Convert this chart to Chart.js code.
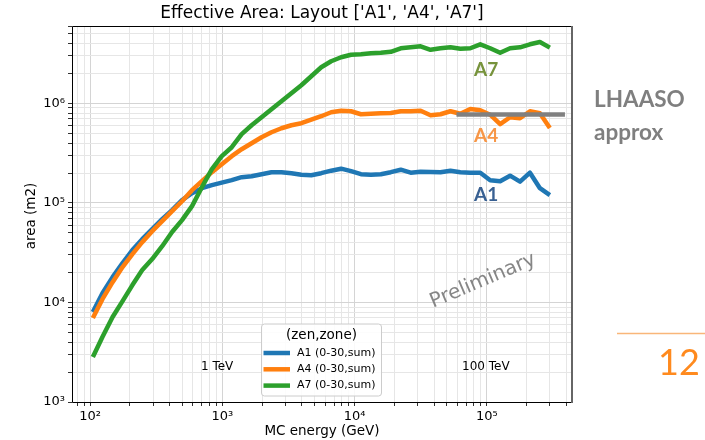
<!DOCTYPE html>
<html>
<head>
<meta charset="utf-8">
<script src="https://cdn.jsdelivr.net/npm/chart.js"></script>
<style>
    body { margin: 0; background: #fff; }
    canvas { display: block; }
</style>
</head>
<body>
<canvas id="myChart" width="705" height="440"></canvas>
<script>
    // MC energy bins (GeV)
    var energies = [105, 124, 148, 176, 209, 248, 295, 351, 417, 496, 590, 701, 834, 991, 1179, 1401,
        1666, 1981, 2355, 2800, 3330, 3959, 4707, 5597, 6655, 7913, 9406, 11180, 13300, 15810, 18800,
        22350, 26570, 31590, 37570, 44670, 53100, 63140, 75080, 89270, 106100, 126200, 150000, 178400,
        212100, 252200, 299900];
    // effective area (m2)
    var areaA1 = [8000, 12400, 18000, 24900, 33600, 43300, 54600, 68800, 84700, 106700, 125500, 140800,
        150900, 159900, 169400, 181600, 185800, 194600, 203800, 203800, 199200, 192400, 190200, 199200,
        211000, 221000, 208600, 194600, 192400, 194600, 203800, 215900, 201500, 206200, 205000, 203800,
        211000, 203800, 201500, 201500, 169400, 165600, 188000, 163700, 201500, 140800, 119800];
    var areaA4 = [6970, 10800, 16000, 22700, 30600, 40400, 52100, 65700, 82800, 104000, 134400, 165600,
        203800, 245300, 295100, 346900, 398500, 457700, 513800, 563600, 604000, 632700, 686000, 743800,
        815700, 844600, 835000, 779000, 787000, 797100, 802000, 835000, 835000, 844600, 761200, 779000,
        835000, 787000, 880000, 854400, 770100, 618400, 726900, 710300, 835000, 797100, 567500];
    var areaA7 = [2830, 4490, 7140, 10330, 14950, 21150, 27280, 36800, 51000, 67200, 92880, 144100,
        218500, 295100, 363300, 490800, 604000, 726900, 874600, 1052000, 1266000, 1523000, 1876000,
        2309000, 2653000, 2910000, 3083000, 3119000, 3192000, 3228000, 3304000, 3583000, 3666000,
        3752000, 3462000, 3583000, 3666000, 3542000, 3583000, 3929000, 3583000, 3228000, 3583000,
        3666000, 3929000, 4145000, 3640000];
    var seriesNames = ['A1 (0-30,sum)', 'A4 (0-30,sum)', 'A7 (0-30,sum)'];
    var seriesColors = ['#1f77b4', '#ff7f0e', '#2ca02c'];
    // grey "LHAASO approx" reference line
    var lhaasoEnergy = [59000, 390000];
    var lhaasoArea = [775000, 775000];
    var xTickPowers = [2, 3, 4, 5];
    var yTickPowers = [3, 4, 5, 6];

    var sup = '⁰¹²³⁴⁵⁶⁷⁸⁹';

    function toPoints(xs, ys) {
        return xs.map(function (x, i) { return { x: x, y: ys[i] }; });
    }

    // all 1..9 x 10^n ticks, so the minor grid is drawn too
    function logTicks(scale) {
        var t = [];
        var lo = Math.floor(Math.log10(scale.min)), hi = Math.ceil(Math.log10(scale.max));
        for (var e = lo; e <= hi; e++) {
            for (var m = 1; m < 10; m++) {
                var v = m * Math.pow(10, e);
                if (v >= scale.min && v <= scale.max) t.push({ value: v, major: m === 1 });
            }
        }
        scale.ticks = t;
    }
    function isPow(v) {
        var l = Math.log10(v);
        return Math.abs(l - Math.round(l)) < 1e-6;
    }
    function powLabel(powers) {
        return function (value) {
            var e = Math.round(Math.log10(value));
            if (!isPow(value) || powers.indexOf(e) < 0) return '';
            return '10' + sup[e];
        };
    }
    function gridColor(ctx) {
        return ctx.tick && isPow(ctx.tick.value) ? '#d4d4d4' : '#e6e6e6';
    }

    var extras = {
        id: 'extras',
        beforeDraw: function (chart) {
            var ctx = chart.ctx;
            ctx.save();
            ctx.fillStyle = '#fff';
            ctx.fillRect(0, 0, chart.width, chart.height);
            ctx.restore();
        },
        afterDraw: function (chart) {
            var ctx = chart.ctx, a = chart.chartArea;
            ctx.save();
            // frame
            ctx.strokeStyle = '#000';
            ctx.lineWidth = 1;
            ctx.beginPath();
            ctx.moveTo(a.right, a.top + 0.5);
            ctx.lineTo(a.left + 0.5, a.top + 0.5);
            ctx.lineTo(a.left + 0.5, a.bottom + 0.5);
            ctx.lineTo(a.right, a.bottom + 0.5);
            ctx.stroke();
            ctx.strokeStyle = '#666';
            ctx.lineWidth = 2;
            ctx.beginPath();
            ctx.moveTo(a.right, a.top);
            ctx.lineTo(a.right, a.bottom + 1);
            ctx.stroke();

            // titles
            ctx.fillStyle = '#000';
            ctx.textAlign = 'center';
            ctx.textBaseline = 'middle';
            ctx.font = '17px "DejaVu Sans"';
            ctx.fillText("Effective Area: Layout ['A1', 'A4', 'A7']", (a.left + a.right) / 2, 14);
            ctx.font = '13.5px "DejaVu Sans"';
            ctx.fillText('MC energy (GeV)', (a.left + a.right) / 2, 431);
            ctx.save();
            ctx.translate(31, 216);
            ctx.rotate(-Math.PI / 2);
            ctx.fillText('area (m2)', 0, 0);
            ctx.restore();

            // annotations
            ctx.font = '12px "DejaVu Sans"';
            ctx.textAlign = 'left';
            ctx.fillText('1 TeV', 201, 367);
            ctx.fillText('100 TeV', 462, 367);

            ctx.save();
            ctx.translate(483, 281);
            ctx.rotate(-23 * Math.PI / 180);
            ctx.textAlign = 'center';
            ctx.fillStyle = 'rgba(128,128,128,0.95)';
            ctx.font = '20px "DejaVu Sans"';
            ctx.fillText('Preliminary', 0, 0);
            ctx.restore();

            ctx.textBaseline = 'alphabetic';
            ctx.font = 'bold 19px Lato';
            ctx.fillStyle = '#77933C';
            ctx.fillText('A7', 474, 76);
            ctx.fillStyle = '#F79646';
            ctx.fillText('A4', 474, 142);
            ctx.fillStyle = '#386092';
            ctx.fillText('A1', 474, 201);

            ctx.fillStyle = '#7F7F7F';
            ctx.font = 'bold 22.5px Lato';
            ctx.fillText('LHAASO', 594, 107);
            ctx.fillText('approx', 594, 140);

            // slide number
            ctx.strokeStyle = '#F9B679';
            ctx.lineWidth = 1.5;
            ctx.beginPath();
            ctx.moveTo(617, 333.5);
            ctx.lineTo(705, 333.5);
            ctx.stroke();
            ctx.fillStyle = '#FF8A1E';
            ctx.font = '36px Lato';
            ctx.fillText('12', 658, 375);

            // legend
            var lx = 261.5, ly = 324, lw = 120, lh = 72;
            ctx.fillStyle = 'rgba(255,255,255,0.85)';
            ctx.strokeStyle = '#cccccc';
            ctx.lineWidth = 1;
            ctx.beginPath();
            ctx.roundRect(lx, ly, lw, lh, 3);
            ctx.fill();
            ctx.stroke();
            ctx.fillStyle = '#000';
            ctx.textAlign = 'center';
            ctx.textBaseline = 'middle';
            ctx.font = '13.5px "DejaVu Sans"';
            ctx.fillText('(zen,zone)', lx + lw / 2, 335);
            ctx.textAlign = 'left';
            ctx.font = '11px "DejaVu Sans"';
            for (var i = 0; i < seriesNames.length; i++) {
                var yy = 353 + i * 16.3;
                ctx.strokeStyle = seriesColors[i];
                ctx.lineWidth = 4.5;
                ctx.beginPath();
                ctx.moveTo(263.5, yy);
                ctx.lineTo(290, yy);
                ctx.stroke();
                ctx.fillText(seriesNames[i], 297, yy);
            }
            ctx.restore();
        }
    };

    new Chart('myChart', {
        type: 'line',
        data: {
            datasets: [
                { label: seriesNames[0], data: toPoints(energies, areaA1), borderColor: seriesColors[0], order: 3 },
                { label: seriesNames[1], data: toPoints(energies, areaA4), borderColor: seriesColors[1], order: 2 },
                { label: seriesNames[2], data: toPoints(energies, areaA7), borderColor: seriesColors[2], order: 1 },
                { label: 'LHAASO approx', data: toPoints(lhaasoEnergy, lhaasoArea), borderColor: '#808080', order: 0 }
            ]
        },
        options: {
            responsive: false,
            animation: false,
            layout: { padding: { left: 0, right: 133, top: 26, bottom: 0 } },
            elements: {
                line: { borderWidth: 4.5, tension: 0, fill: false, borderJoinStyle: 'round' },
                point: { radius: 0 }
            },
            plugins: { legend: { display: false }, tooltip: { enabled: false } },
            scales: {
                x: {
                    type: 'logarithmic',
                    min: 73,
                    max: 441000,
                    afterBuildTicks: logTicks,
                    afterFit: function (s) { s.height = 38; },
                    border: { display: false },
                    grid: { color: gridColor, tickColor: '#333', tickLength: 4 },
                    ticks: {
                        autoSkip: false, maxRotation: 0, padding: 3, color: '#000',
                        font: { family: 'DejaVu Sans', size: 13 },
                        callback: powLabel(xTickPowers)
                    }
                },
                y: {
                    type: 'logarithmic',
                    min: 1000,
                    max: 6000000,
                    afterBuildTicks: logTicks,
                    afterFit: function (s) { s.width = 72; },
                    border: { display: false },
                    grid: { color: gridColor, tickColor: '#333', tickLength: 4 },
                    ticks: {
                        autoSkip: false, padding: 3, color: '#000',
                        font: { family: 'DejaVu Sans', size: 13 },
                        callback: powLabel(yTickPowers)
                    }
                }
            }
        },
        plugins: [extras]
    });
</script>
</body>
</html>
